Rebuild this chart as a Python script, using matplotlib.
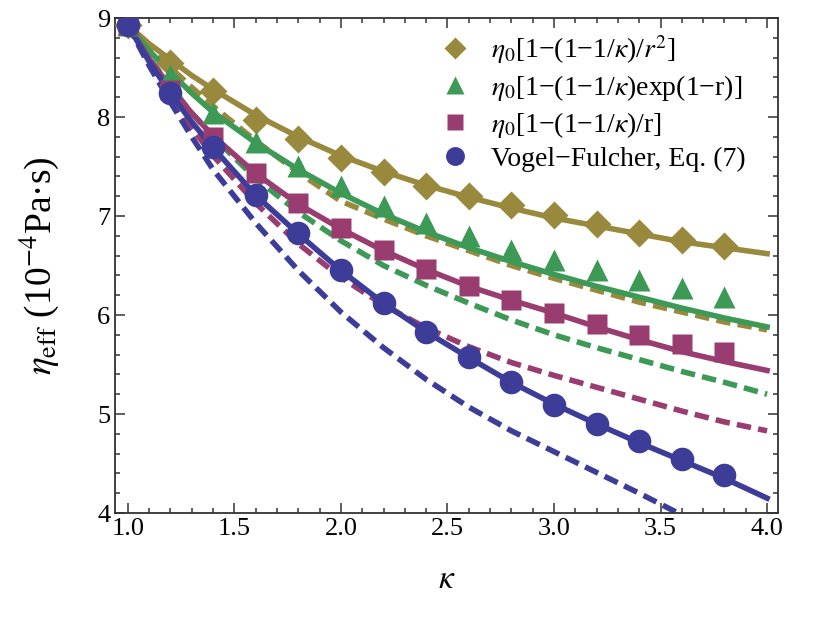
import matplotlib
matplotlib.use("Agg")
import matplotlib.pyplot as plt
from matplotlib.ticker import MultipleLocator, FormatStrFormatter

plt.rcParams['font.family'] = ['Liberation Serif', 'DejaVu Serif']
plt.rcParams['mathtext.fontset'] = 'stix'

# kappa values for the markers and for the curves
kappa_pts = [1.0, 1.2, 1.4, 1.6, 1.8, 2.0, 2.2, 2.4, 2.6, 2.8, 3.0, 3.2, 3.4, 3.6, 3.8]
kappa_line = [1.0, 1.1, 1.2, 1.3, 1.4, 1.6, 1.8, 2.0, 2.2, 2.4, 2.6, 2.8, 3.0, 3.2, 3.4, 3.6, 3.8, 4.0]

# markers
pts_r2 = [8.93, 8.55, 8.26, 7.97, 7.78, 7.59, 7.44, 7.30, 7.20, 7.11, 7.01, 6.92, 6.83, 6.76, 6.70]
pts_exp = [8.93, 8.42, 8.04, 7.75, 7.51, 7.30, 7.10, 6.93, 6.80, 6.66, 6.56, 6.45, 6.35, 6.27, 6.18]
pts_r = [8.93, 8.27, 7.80, 7.43, 7.13, 6.88, 6.66, 6.46, 6.29, 6.15, 6.02, 5.91, 5.80, 5.71, 5.63]
pts_vf = [8.93, 8.24, 7.70, 7.21, 6.83, 6.45, 6.12, 5.83, 5.58, 5.32, 5.09, 4.90, 4.73, 4.55, 4.38]

# solid curves
solid_r2 = [8.93, 8.74, 8.58, 8.42, 8.28, 8.02, 7.80, 7.61, 7.45, 7.31, 7.19, 7.08, 6.98, 6.90, 6.82, 6.74, 6.68, 6.62]
solid_exp = [8.93, 8.67, 8.45, 8.24, 8.05, 7.74, 7.47, 7.23, 7.02, 6.84, 6.68, 6.54, 6.41, 6.29, 6.18, 6.07, 5.97, 5.88]
solid_r = [8.93, 8.59, 8.30, 8.04, 7.81, 7.43, 7.12, 6.87, 6.65, 6.46, 6.29, 6.15, 6.02, 5.88, 5.75, 5.63, 5.53, 5.44]
solid_vf = [8.93, 8.56, 8.24, 7.95, 7.69, 7.21, 6.82, 6.45, 6.12, 5.83, 5.57, 5.32, 5.10, 4.90, 4.71, 4.53, 4.35, 4.15]

# dashed curves
dash_r2 = [8.93, 8.70, 8.50, 8.30, 8.11, 7.76, 7.44, 7.15, 6.97, 6.80, 6.65, 6.50, 6.37, 6.25, 6.13, 6.03, 5.93, 5.85]
dash_exp = [8.93, 8.60, 8.31, 8.04, 7.80, 7.38, 7.04, 6.75, 6.50, 6.30, 6.12, 5.95, 5.80, 5.67, 5.55, 5.43, 5.32, 5.20]
dash_r = [8.93, 8.54, 8.20, 7.89, 7.61, 7.13, 6.72, 6.38, 6.10, 5.87, 5.68, 5.52, 5.39, 5.27, 5.15, 5.03, 4.92, 4.83]
dash_vf = [8.93, 8.52, 8.15, 7.80, 7.47, 6.93, 6.45, 6.03, 5.67, 5.35, 5.07, 4.83, 4.62, 4.41, 4.20, 3.98, 3.78, 3.60]

labels = ['$\\eta_0$[1\u2212(1\u22121/$\\kappa$)/$r^2$]',
          '$\\eta_0$[1\u2212(1\u22121/$\\kappa$)exp(1\u2212r)]',
          '$\\eta_0$[1\u2212(1\u22121/$\\kappa$)/r]',
          'Vogel\u2212Fulcher, Eq. (7)']

gold = '#99893d'
green = '#3d9956'
magenta = '#993d71'
blue = '#3d3d99'

fig = plt.figure(figsize=(8.3, 6.26), dpi=100)
ax = fig.add_axes([0.1386, 0.1805, 0.7984, 0.7907])

lw = 4.0
dash = (2.6, 1.3)
for ys, c in [(dash_r2, gold), (dash_exp, green), (dash_r, magenta), (dash_vf, blue)]:
    ax.plot(kappa_line, ys, color=c, lw=lw, dashes=dash, zorder=2)
for ys, c in [(solid_r2, gold), (solid_exp, green), (solid_r, magenta), (solid_vf, blue)]:
    ax.plot(kappa_line, ys, color=c, lw=lw, zorder=3)

ax.plot(kappa_pts, pts_r2, 'D', color=gold, ms=14, mec='none', label=labels[0], zorder=4)
ax.plot(kappa_pts, pts_exp, '^', color=green, ms=16, mec='none', label=labels[1], zorder=4)
ax.plot(kappa_pts, pts_r, 's', color=magenta, ms=14, mec='none', label=labels[2], zorder=4)
ax.plot(kappa_pts, pts_vf, 'o', color=blue, ms=17, mec='none', label=labels[3], zorder=4)

ax.set_xlim(0.94, 4.05)
ax.set_ylim(4, 9)
ax.xaxis.set_major_locator(MultipleLocator(0.5))
ax.xaxis.set_minor_locator(MultipleLocator(0.1))
ax.yaxis.set_major_locator(MultipleLocator(1))
ax.yaxis.set_minor_locator(MultipleLocator(0.2))
ax.tick_params(which='both', direction='in', top=True, right=True, labelsize=19, width=1.1, color='#333333')
ax.tick_params(which='major', length=7)
ax.tick_params(which='minor', length=3.5)
ax.xaxis.set_major_formatter(FormatStrFormatter('%.1f'))
for s in ax.spines.values():
    s.set_linewidth(1.3)
    s.set_color('#333333')

ax.set_xlabel('$\\kappa$', fontsize=24, labelpad=18)
ax.set_ylabel('$\\eta_{\\rm eff}$ (10$^{-4}$Pa\u00b7s)', fontsize=27, labelpad=26)

ax.legend(loc='upper right', bbox_to_anchor=(0.985, 1.015), frameon=False, fontsize=20,
          handletextpad=0.3, labelspacing=0.25, numpoints=1, markerscale=0.8,
          borderpad=0.3)

fig.savefig('out.png', dpi=100)
